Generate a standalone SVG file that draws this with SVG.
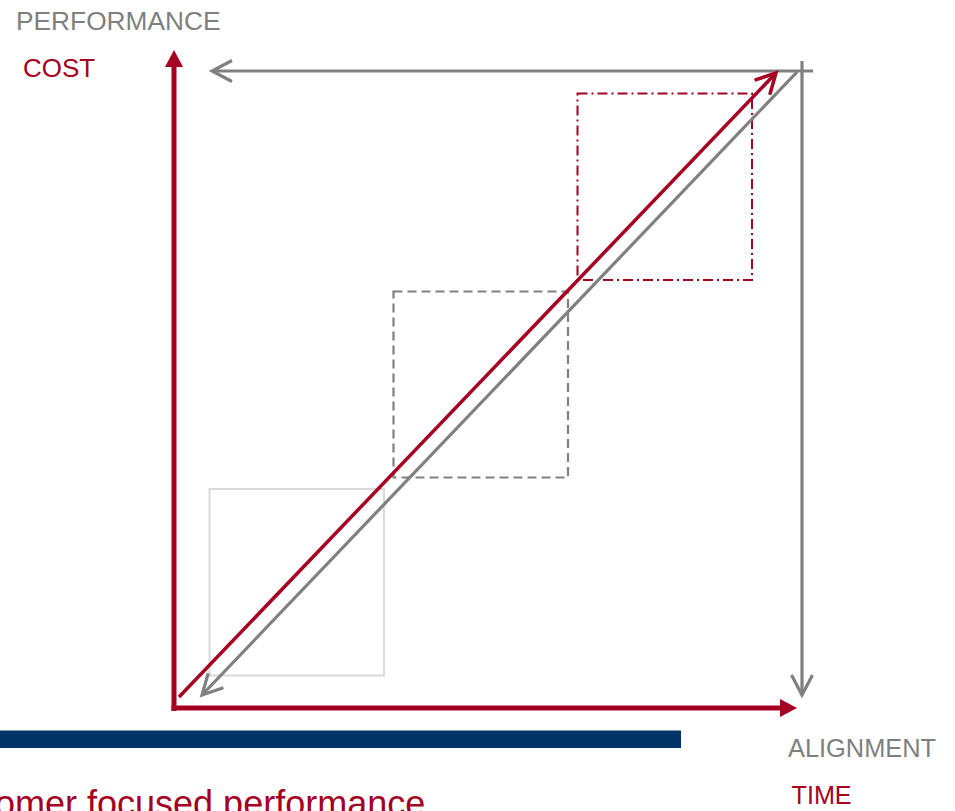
<svg xmlns="http://www.w3.org/2000/svg" width="955" height="811" viewBox="0 0 955 811">
  <defs>
    <style>
      .txt { font-family: "Liberation Sans", Arial, sans-serif; }
      .gray-t { fill: #7f7f7f; }
      .red-t { fill: #a50021; }
      .axis-red { stroke: #a50021; stroke-width: 5; fill: none; }
      .diag-red { stroke: #a50021; stroke-width: 3.5; fill: none; }
      .line-gray { stroke: #808080; stroke-width: 3.2; fill: none; }
    </style>
    <marker id="triRed" markerUnits="userSpaceOnUse" viewBox="0 -10 18 20" refX="0" refY="0" markerWidth="18" markerHeight="20" orient="auto">
      <path d="M0,-9 L17,0 L0,9 Z" fill="#a50021"/>
    </marker>
    <marker id="chevGray" markerUnits="userSpaceOnUse" viewBox="-24 -14 28 28" refX="0" refY="0" markerWidth="28" markerHeight="28" orient="auto">
      <path d="M-20,-10.5 L0,0 L-20,10.5" fill="none" stroke="#808080" stroke-width="3.2" stroke-linejoin="miter"/>
    </marker>
    <marker id="chevRed" markerUnits="userSpaceOnUse" viewBox="-24 -14 28 28" refX="0" refY="0" markerWidth="28" markerHeight="28" orient="auto">
      <path d="M-20,-10.5 L0,0 L-20,10.5" fill="none" stroke="#a50021" stroke-width="3.5" stroke-linejoin="miter"/>
    </marker>
  </defs>

  <rect width="955" height="811" fill="#ffffff"/>

  <g id="stage-boxes">
    <rect id="box-low" x="209.5" y="489" width="174.5" height="186.5" fill="none" stroke="#d9d9d9" stroke-width="2"/>
    <rect id="box-mid" x="393.5" y="291.5" width="174.5" height="186" fill="none" stroke="#808080" stroke-width="2.2" stroke-dasharray="9,5"/>
    <rect id="box-high" x="577.5" y="93.5" width="174.5" height="186.5" fill="none" stroke="#a50021" stroke-width="2" stroke-dasharray="10,4,2,4"/>
  </g>

  <g id="connectors">
    <line id="axis-cost" class="axis-red" x1="174" y1="711" x2="174" y2="67" marker-end="url(#triRed)"/>
    <line id="axis-time" class="axis-red" x1="171.5" y1="708" x2="780" y2="708" marker-end="url(#triRed)"/>
    <line id="axis-performance" class="line-gray" x1="813" y1="71" x2="212" y2="71" marker-end="url(#chevGray)"/>
    <line id="axis-alignment" class="line-gray" x1="802" y1="61" x2="802" y2="695" marker-end="url(#chevGray)"/>
    <line id="diag-red" class="diag-red" x1="179" y1="697" x2="776" y2="73" marker-end="url(#chevRed)"/>
    <line id="diag-gray" class="line-gray" x1="797" y1="72" x2="202" y2="695" marker-end="url(#chevGray)"/>
  </g>

  <g id="footer-bar">
    <rect x="0" y="730.5" width="681" height="17.5" fill="#003366"/>
  </g>

  <g id="labels">
    <text class="txt gray-t" x="16" y="29.5" font-size="26.3">PERFORMANCE</text>
    <text class="txt red-t" x="23" y="77" font-size="26">COST</text>
    <text class="txt gray-t" x="788" y="757" font-size="25.4">ALIGNMENT</text>
    <text class="txt red-t" x="791.5" y="804" font-size="25.2">TIME</text>
    <text class="txt red-t" x="-5" y="815.5" font-size="36">omer focused performance</text>
  </g>
</svg>
